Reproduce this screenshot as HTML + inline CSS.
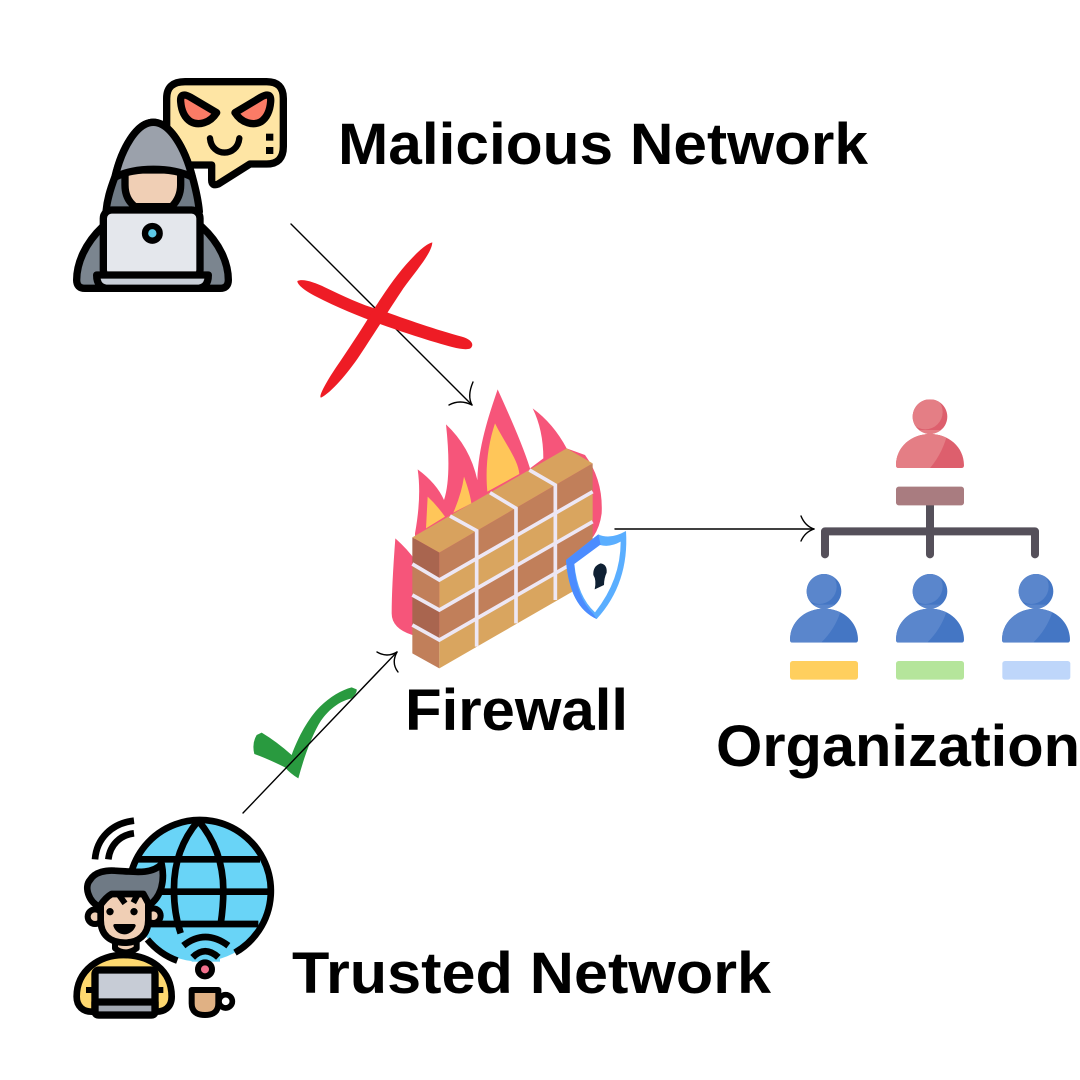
<!DOCTYPE html>
<html>
<head>
<meta charset="utf-8">
<style>
html,body{margin:0;padding:0;background:#fff;width:1080px;height:1080px;overflow:hidden}
svg{display:block}
text{font-family:"Liberation Sans",sans-serif;font-weight:700;fill:#000}
</style>
</head>
<body>
<svg width="1080" height="1080" viewBox="0 0 1080 1080" xmlns="http://www.w3.org/2000/svg">
<rect width="1080" height="1080" fill="#fff"/>

<!-- Hacker -->
<g transform="translate(60,70) scale(.33333)" stroke="#000" stroke-width="22" stroke-linejoin="round" stroke-linecap="round">
  <path d="M375,35H620Q670,35 670,85V230Q670,282 620,282H570L475,342Q455,350 455,330V285H385Q320,285 320,230V85Q320,35 375,35Z" fill="#FEE5A4"/>
  <path d="M362,95C360,70 375,72 392,82L470,128C450,160 415,168 392,155C372,142 364,120 362,95Z" fill="#FB7B66"/>
  <path d="M632,95C634,70 619,72 602,82L525,128C545,160 580,168 603,155C622,142 630,120 632,95Z" fill="#FB7B66"/>
  <path d="M450,205C455,262 532,262 538,205" fill="none" stroke-width="19"/>
  <rect x="618" y="191" width="22" height="21" fill="#000" stroke="none"/>
  <rect x="618" y="231" width="22" height="21" fill="#000" stroke="none"/>
  <path d="M128,470C75,520 50,580 50,630Q50,655 75,655H480Q505,655 505,630C505,580 480,520 425,470Z" fill="#7B858F"/>
  <path d="M280,157C330,157 375,235 397,320C408,360 415,390 418,425H138C141,390 150,360 165,320C185,235 230,157 280,157Z" fill="#6F7A85"/>
  <path d="M195,300H362V345C362,375 350,395 335,410H225C205,395 195,375 195,345Z" fill="#F0CFB5"/>
  <path d="M280,157C330,157 375,235 397,322C340,290 220,290 165,322C185,235 230,157 280,157Z" fill="#9BA1AB"/>
  <rect x="130" y="420" width="290" height="205" rx="25" fill="#E4E7EC"/>
  <circle cx="277" cy="490" r="22" fill="#5CC9E6" stroke-width="19"/>
  <path d="M110,615H445Q445,655 410,655H145Q110,655 110,615Z" fill="#C9CFD8"/>
</g>

<!-- Firewall -->
<g transform="translate(380,380) scale(.33333)">
  <path d="M97,765Q35,745 35,700Q35,620 46,475Q85,510 105,540L105,460Q125,350 113,268Q170,310 192,360Q215,290 198,133Q270,200 292,300C295,200 325,110 353,28C390,110 430,200 450,265L490,235Q490,150 458,85Q520,130 560,205L615,225Q670,300 665,400Q660,440 640,470L200,760Z" fill="#F6557A"/>
  <path d="M138,445L143,350Q170,375 195,410Z" fill="#FFC659"/>
  <path d="M220,398Q245,340 252,290Q270,340 274,370Z" fill="#FFC659"/>
  <path d="M322,335C315,260 325,190 345,130C375,190 415,240 418,282Z" fill="#FFC659"/>
  <polygon points="97,472 560,205 638,250 178,518" fill="#D8A25E"/>
  <polygon points="97,472 178,518 178,600 97,552" fill="#A9654F"/>
  <polygon points="97,552 178,600 178,690 97,645" fill="#C17F5A"/>
  <polygon points="97,645 178,690 178,780 97,735" fill="#A9654F"/>
  <polygon points="97,735 178,780 178,865 97,820" fill="#C17F5A"/>
  <polygon points="178,518 638,250 638,335 178,600" fill="#C17F5A"/>
  <polygon points="178,600 638,335 638,425 178,690" fill="#D9A55F"/>
  <polygon points="178,690 638,425 638,515 178,780" fill="#C17F5A"/>
  <polygon points="178,780 638,515 638,600 178,865" fill="#D9A55F"/>
  <g stroke="#EDE7F4" stroke-width="11" fill="none">
    <path d="M97,552L178,600L638,335"/>
    <path d="M97,645L178,690L638,425"/>
    <path d="M97,735L178,780L638,515"/>
    <path d="M210,408L290,452V800"/>
    <path d="M330,338L408,385V730"/>
    <path d="M448,270L526,315V660"/>
  </g>
  <path d="M558,540L655,463Q690,480 738,453Q748,610 650,717Q568,680 558,540Z" fill="#5AAEFF"/>
  <path d="M558,540L655,463L662,495L583,552Q588,650 640,702L650,717Q568,680 558,540Z" fill="#4C8CFF"/>
  <path d="M583,552L660,495Q690,503 722,485Q722,600 645,697Q593,650 583,552Z" fill="#fff"/>
  <path d="M662,550Q682,553 680,578Q672,595 672,615L644,628Q650,600 640,585Q638,558 662,550Z" fill="#0F2033"/>
</g>

<!-- Trusted user -->
<g transform="translate(60,800) scale(.33333)" stroke="#000" stroke-width="20" stroke-linecap="butt" stroke-linejoin="round">
  <circle cx="420" cy="272" r="213" fill="#69D4F7" stroke="none"/>
  <path d="M352,482A213,213 0 0 1 262,418M212,225A213,213 0 1 1 525,458" fill="none"/>
  <path d="M225,178H600M300,275H630M270,372H595" fill="none"/>
  <path d="M415,62Q340,150 342,272Q342,340 362,400M415,62Q490,150 490,272Q490,320 482,372" fill="none" stroke-width="20"/>
  <rect x="395" y="395" width="85" height="90" fill="#69D4F7" stroke="none"/>
  <path d="M105,178C110,115 155,70 222,62M145,178C150,135 180,105 222,100" fill="none" stroke-width="20"/>
  <path d="M370,437Q435,385 505,437M398,472Q435,435 475,472" fill="none" stroke-width="20"/>
  <circle cx="435" cy="508" r="21" fill="#F2708C" stroke-width="18"/>
  <circle cx="497" cy="604" r="20" fill="#fff" stroke-width="17"/>
  <path d="M395,570H475V610Q475,645 435,645Q395,645 395,610Z" fill="#E0B184" stroke-width="18"/>
  <path d="M50,590C50,510 120,465 190,465C270,465 335,510 335,590C335,625 310,635 290,635H95C70,635 50,620 50,590Z" fill="#FED86F"/>
  <path d="M165,415H230V445Q195,470 165,445Z" fill="#F0CFB5" stroke-width="18"/>
  <circle cx="105" cy="350" r="22" fill="#F0CFB5" stroke-width="18"/>
  <circle cx="280" cy="347" r="22" fill="#F0CFB5" stroke-width="18"/>
  <path d="M122,260H265V360C265,405 235,428 195,428C150,428 122,405 122,360Z" fill="#F0CFB5"/>
  <path d="M118,320C85,305 72,260 90,240C105,215 140,210 165,212C220,215 275,225 305,192C315,240 305,290 268,315L250,282H155C140,290 128,305 118,320Z" fill="#6F7A85"/>
  <path d="M175,282L195,310M236,278L220,308" fill="none" stroke-width="18"/>
  <circle cx="150" cy="335" r="11" fill="#000" stroke="none"/>
  <circle cx="222" cy="335" r="11" fill="#000" stroke="none"/>
  <path d="M165,377C175,405 210,405 222,377Z" fill="#000" stroke-width="10"/>
  <path d="M78,570H105M285,570H310" fill="none" stroke-width="18"/>
  <rect x="105" y="510" width="180" height="135" rx="12" fill="#C7CCD6" stroke-width="22"/>
  <path d="M105,606H285V635Q285,645 272,645H118Q105,645 105,635Z" fill="#A4AAB4" stroke-width="22"/>
</g>

<!-- Organization -->
<defs>
  <clipPath id="p1"><path d="M0,-52A52,52 0 1 1 -.1,-52ZM-102,146C-102,90 -55,52 0,52C55,52 102,90 102,146Q102,154 94,154H-94Q-102,154 -102,146Z"/></clipPath>
</defs>
<g transform="translate(780,390) scale(.33333)">
  <path d="M450,345V493M135,493V424H765V493" fill="none" stroke="#55505A" stroke-width="24" stroke-linecap="round" stroke-linejoin="round"/>
  <rect x="348" y="290" width="204" height="56" rx="8" fill="#A97C80"/>
  <g transform="translate(450,80)" clip-path="url(#p1)">
    <rect x="-110" y="-60" width="220" height="220" fill="#DD5F6D"/>
    <circle cx="-14" cy="-14" r="52" fill="#E47E85"/>
    <path d="M-110,40H55Q40,110 -5,160H-110Z" fill="#E47E85"/>
  </g>
  <g transform="translate(132,604)" clip-path="url(#p1)">
    <rect x="-110" y="-60" width="220" height="220" fill="#4476C4"/>
    <circle cx="-14" cy="-14" r="52" fill="#5A86CC"/>
    <path d="M-110,40H55Q40,110 -15,160H-110Z" fill="#5A86CC"/>
  </g>
  <g transform="translate(450,604)" clip-path="url(#p1)">
    <rect x="-110" y="-60" width="220" height="220" fill="#4476C4"/>
    <circle cx="-14" cy="-14" r="52" fill="#5A86CC"/>
    <path d="M-110,40H55Q40,110 -15,160H-110Z" fill="#5A86CC"/>
  </g>
  <g transform="translate(768,604)" clip-path="url(#p1)">
    <rect x="-110" y="-60" width="220" height="220" fill="#4476C4"/>
    <circle cx="-14" cy="-14" r="52" fill="#5A86CC"/>
    <path d="M-110,40H55Q40,110 -15,160H-110Z" fill="#5A86CC"/>
  </g>
  <rect x="30" y="813" width="204" height="56" rx="8" fill="#FFCF5E"/>
  <rect x="348" y="813" width="204" height="56" rx="8" fill="#B5E59B"/>
  <rect x="667" y="813" width="204" height="56" rx="8" fill="#BED6FA"/>
</g>

<!-- Green check -->
<path transform="translate(240,640) scale(.33333)" d="M350,148Q352,160 335,175C290,185 255,220 235,255C210,300 190,360 175,415Q150,400 135,382Q80,355 43,342Q35,310 50,285L65,278Q110,305 155,345C175,290 205,235 240,200C270,170 305,150 335,142Z" fill="#299A3F"/>

<!-- Arrows -->
<g fill="none" stroke="#000" stroke-width="1.4" stroke-linecap="round">
  <path d="M291,224L472,405"/>
  <path d="M473,382Q467,396 472,405M449,405Q460,399 472,405"/>
  <path d="M243,813L397,652"/>
  <path d="M377,652Q387,658 397,652M398,672Q391,663 397,652"/>
  <path d="M615,529H814"/>
  <path d="M801,516Q805,526 814,529M801,541Q805,532 814,529"/>
</g>

<!-- Red X -->
<g transform="translate(240,220) scale(.33333)" fill="#EE1C25">
  <path d="M172,183C190,175 225,188 255,202C310,228 365,255 415,268C490,295 590,330 665,350C695,358 705,375 690,386C670,392 630,380 590,368C530,350 470,330 420,312C360,290 290,262 225,228C195,212 172,195 172,183Z"/>
  <path d="M577,67C575,100 530,150 490,205C450,265 400,345 360,405C320,465 270,520 243,533C233,530 265,475 300,425C340,365 370,320 400,270C445,200 480,150 525,105C550,80 565,70 577,67Z"/>
</g>

<!-- Labels -->
<text x="338" y="164" font-size="58" textLength="530" lengthAdjust="spacingAndGlyphs">Malicious Network</text>
<text x="405" y="730" font-size="58" textLength="223" lengthAdjust="spacingAndGlyphs">Firewall</text>
<text x="716" y="766" font-size="58" textLength="364" lengthAdjust="spacingAndGlyphs">Organization</text>
<text x="292" y="993" font-size="58" textLength="479" lengthAdjust="spacingAndGlyphs">Trusted Network</text>
</svg>
</body>
</html>
